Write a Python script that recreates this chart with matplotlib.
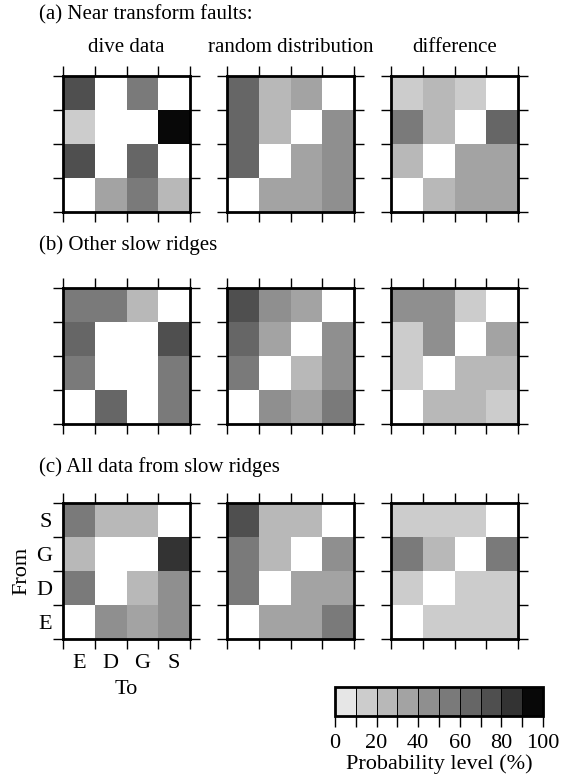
import numpy as np
import matplotlib.pyplot as plt
from matplotlib.colors import ListedColormap, BoundaryNorm
from matplotlib.cm import ScalarMappable

plt.rcParams['font.family'] = ['Liberation Serif', 'DejaVu Serif']

# transition matrices, rows = From (S, G, D, E top to bottom), cols = To (E, D, G, S)
nan = np.nan
to_labels = ['E', 'D', 'G', 'S']
from_labels = ['S', 'G', 'D', 'E']

near_tf_dive = [[75, nan, 50, nan], [15, nan, nan, 92], [70, nan, 60, nan], [nan, 38, 55, 28]]
near_tf_random = [[65, 25, 35, nan], [62, 25, nan, 45], [62, nan, 38, 40], [nan, 30, 35, 45]]
near_tf_diff = [[15, 20, 18, nan], [58, 25, nan, 65], [20, nan, 35, 35], [nan, 20, 35, 35]]

other_dive = [[50, 55, 28, nan], [62, nan, nan, 70], [55, nan, nan, 55], [nan, 62, nan, 55]]
other_random = [[70, 42, 30, nan], [60, 38, nan, 48], [55, nan, 25, 45], [nan, 42, 30, 52]]
other_diff = [[42, 40, 15, nan], [10, 45, nan, 35], [10, nan, 25, 25], [nan, 25, 20, 10]]

all_dive = [[55, 25, 25, nan], [22, nan, nan, 88], [55, nan, 25, 40], [nan, 40, 35, 40]]
all_random = [[70, 25, 25, nan], [55, 25, nan, 40], [55, nan, 30, 35], [nan, 32, 35, 52]]
all_diff = [[10, 15, 15, nan], [52, 25, nan, 52], [10, nan, 10, 15], [nan, 10, 10, 15]]

row_titles = ['(a) Near transform faults:', '(b) Other slow ridges', '(c) All data from slow ridges']
col_titles = ['dive data', 'random distribution', 'difference']
panels = [[near_tf_dive, near_tf_random, near_tf_diff],
          [other_dive, other_random, other_diff],
          [all_dive, all_random, all_diff]]

levels = np.arange(0, 101, 10)
shades = [0.90, 0.80, 0.72, 0.64, 0.56, 0.48, 0.40, 0.31, 0.20, 0.03]
cmap = ListedColormap([(s, s, s) for s in shades])
norm = BoundaryNorm(levels, cmap.N)

fig = plt.figure(figsize=(5.69, 7.81), dpi=100)
W, H = 569, 781

col_x = [63, 227, 391]
row_y = [76, 288, 503]
pw, ph = 127, 136
title_y = [15, 245, 467]

for r in range(3):
    fig.text(39 / W, 1 - title_y[r] / H, row_titles[r], fontsize=15, va='center', ha='left')
    for c in range(3):
        ax = fig.add_axes([col_x[c] / W, 1 - (row_y[r] + ph) / H, pw / W, ph / H])
        data = np.ma.masked_invalid(np.array(panels[r][c], dtype=float))
        ax.pcolormesh(np.arange(5), np.arange(5), data, cmap=cmap, norm=norm)
        ax.set_xlim(0, 4)
        ax.set_ylim(4, 0)
        ax.set_xticks(range(5))
        ax.set_yticks(range(5))
        ax.tick_params(which='major', direction='out', length=7, width=1,
                       top=True, right=True, labelbottom=False, labelleft=False)
        for sp in ax.spines.values():
            sp.set_linewidth(2)
        if r == 0:
            fig.text((col_x[c] + pw / 2) / W, 1 - 48 / H, col_titles[c],
                     fontsize=15, ha='center', va='center')
        if r == 2 and c == 0:
            ax.set_xticks(np.arange(4) + 0.5, minor=True)
            ax.set_yticks(np.arange(4) + 0.5, minor=True)
            ax.set_xticklabels(to_labels, minor=True, fontsize=16)
            ax.set_yticklabels(from_labels, minor=True, fontsize=16)
            ax.tick_params(axis='x', which='minor', length=0, pad=11)
            ax.tick_params(axis='y', which='minor', length=0, pad=8)
            ax.set_xlabel('To', fontsize=16)
            ax.set_ylabel('From', fontsize=16)
            ax.xaxis.set_label_coords(0.5, -0.30)
            ax.yaxis.set_label_coords(-0.25, 0.5)

cax = fig.add_axes([335 / W, 1 - 716 / H, 208 / W, 29 / H])
cb = fig.colorbar(ScalarMappable(norm=norm, cmap=cmap), cax=cax,
                  orientation='horizontal', drawedges=True)
cb.set_ticks(levels)
cb.set_ticklabels([str(v) if v % 20 == 0 else '' for v in levels])
cb.ax.tick_params(direction='out', length=8, width=1, labelsize=16, pad=5)
cb.outline.set_linewidth(2)
cb.dividers.set_linewidth(0.7)
cb.set_label('Probability level (%)', fontsize=16, labelpad=1)

fig.savefig('out.png', dpi=100)
